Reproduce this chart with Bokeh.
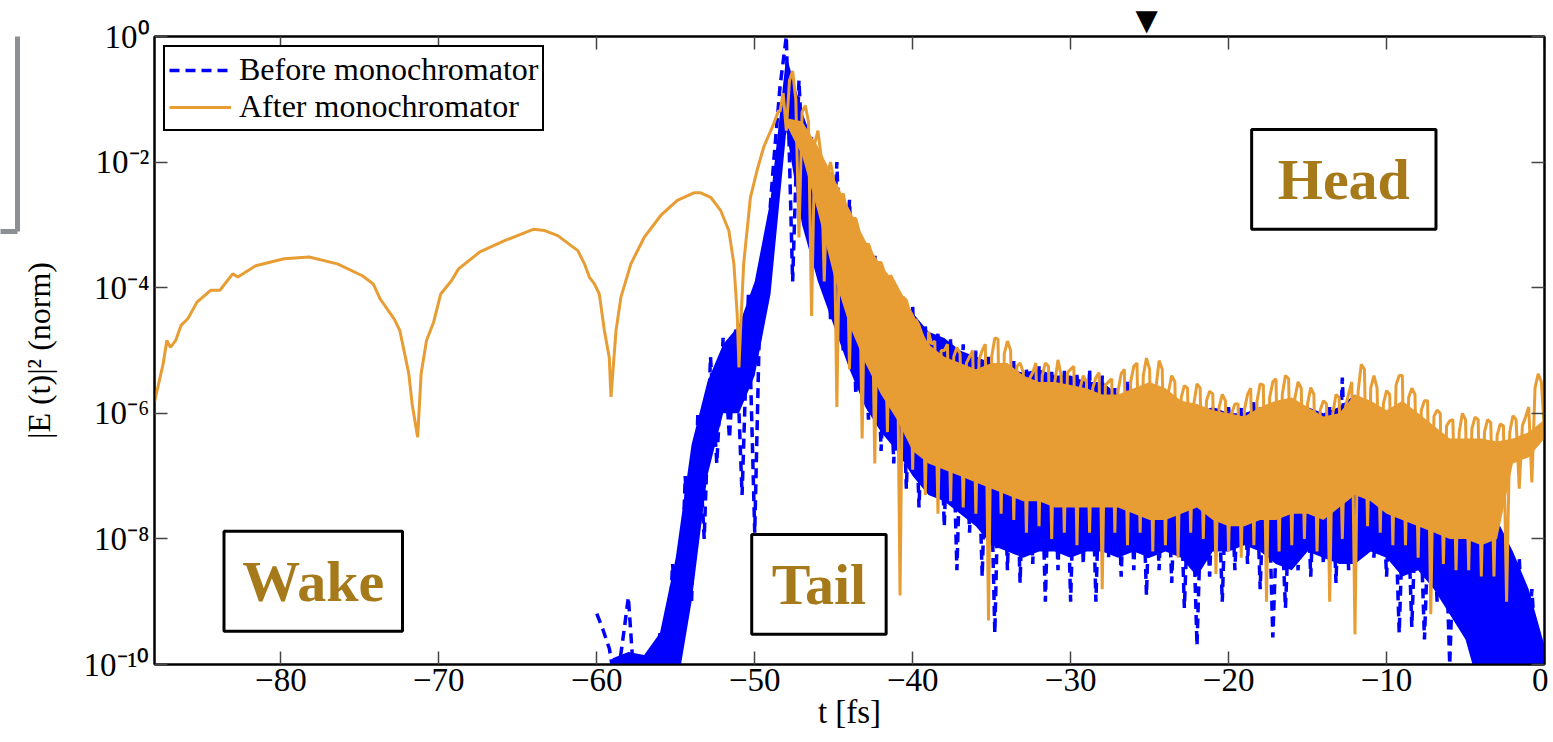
import numpy as np
from bokeh.plotting import figure
from bokeh.models import (Range1d, FixedTicker, LinearAxis, LogAxis, CustomJSTickFormatter,
                          Legend, LegendItem, BoxAnnotation, Label)
from bokeh.embed import file_html
from bokeh.resources import INLINE

# ---------------- data (log10 of |E(t)|^2) ----------------
x_ticks = [-80, -70, -60, -50, -40, -30, -20, -10, 0]
y_tick_exponents = [-10, -8, -6, -4, -2, 0]

# After monochromator: smooth wake part
orange_smooth_t = [-88.0, -87.45, -87.22, -86.99, -86.66, -86.32, -85.88, -85.31, -84.43, -83.86,
                   -83.05, -82.72, -81.59, -79.79, -78.21, -76.42, -74.84, -74.15, -73.71, -72.82,
                   -72.47, -71.90, -71.69, -71.34, -71.12, -70.78, -70.33, -69.88, -69.20, -68.75,
                   -67.40, -65.83, -64.02, -63.3, -62.47, -61.2, -60.78, -60.47, -60.15, -59.84,
                   -59.52, -59.21, -59.1, -58.78, -58.47, -57.84, -57.0, -55.95, -54.9, -53.85,
                   -53.42, -52.79, -52.16, -51.64, -51.32, -51.11, -51.0, -50.9, -50.7, -50.27,
                   -49.85, -49.43, -48.8, -48.49]
orange_smooth_log = [-5.82, -5.21, -4.84, -4.95, -4.84, -4.60, -4.49, -4.23, -4.04, -4.04,
                     -3.78, -3.83, -3.65, -3.54, -3.51, -3.62, -3.81, -3.94, -4.18, -4.50,
                     -4.68, -5.37, -5.85, -6.38, -5.37, -4.84, -4.55, -4.10, -3.89, -3.70,
                     -3.43, -3.25, -3.07, -3.09, -3.17, -3.41, -3.62, -3.83, -3.94, -4.10,
                     -4.68, -5.11, -5.74, -4.68, -4.15, -3.62, -3.20, -2.85, -2.61, -2.49,
                     -2.49, -2.56, -2.77, -3.09, -3.62, -4.42, -5.27, -4.68, -3.62, -2.56,
                     -2.13, -1.76, -1.39, -1.18]

# After monochromator: noisy part, samples every 0.2 fs from -48.4 fs
orange_noise_start, orange_noise_step = -48.4, 0.2
# even samples (t = -48.4, -48.0, ..., 0.0)
orange_noise_even = [-1.2, -1.5, -0.55, -3.2, -1.1, -4.45, -1.5, -3.9, -2.0, -5.9,
                     -2.5, -5.3, -2.9, -6.4, -3.3, -6.8, -3.6, -6.3, -3.9, -8.9,
                     -4.2, -6.9, -4.6, -7.3, -4.9, -7.6, -5.0, -7.4, -4.95, -7.5,
                     -5.1, -7.6, -5.0, -9.3, -4.8, -7.6, -4.85, -7.7, -5.2, -7.9,
                     -5.35, -7.8, -5.2, -8.0, -5.15, -7.9, -5.3, -8.1, -5.4, -7.9,
                     -5.43, -8.8, -5.5, -7.9, -5.37, -8.1, -5.25, -7.9, -5.12, -8.2,
                     -5.16, -8.1, -5.4, -8.3, -5.56, -7.9, -5.53, -8.0, -5.65, -8.56,
                     -5.7, -8.2, -5.85, -8.3, -5.7, -8.1, -5.53, -9.0, -5.5, -8.2,
                     -5.4, -8.1, -5.5, -8.0, -5.59, -8.2, -5.8, -9.0, -5.7, -8.0,
                     -5.69, -9.52, -5.22, -7.8, -5.4, -7.9, -5.64, -8.1, -5.4, -8.1,
                     -5.6, -8.3, -5.8, -9.2, -5.95, -8.4, -6.12, -8.5, -6.0, -8.5,
                     -6.06, -8.6, -6.1, -8.6, -6.17, -9.0, -6.04, -7.2, -6.06, -7.1,
                     -5.37, -6.3]
# odd samples (t = -48.2, -47.8, ..., -0.2)
orange_noise_odd = [-0.9, -0.7, -1.0, -1.2, -1.35, -1.7, -1.9, -2.2, -2.3, -2.6,
                    -2.75, -2.9, -3.1, -3.35, -3.45, -3.6, -3.75, -3.8, -4.0, -4.15,
                    -4.4, -4.5, -4.75, -4.7, -4.85, -5.0, -4.9, -5.1, -5.05, -5.2,
                    -5.0, -5.15, -4.9, -5.1, -4.82, -5.05, -5.0, -5.25, -5.35, -5.45,
                    -5.2, -5.4, -5.25, -5.5, -5.4, -5.35, -5.25, -5.6, -5.5, -5.6,
                    -5.35, -5.55, -5.45, -5.65, -5.3, -5.5, -5.2, -5.4, -5.3, -5.6,
                    -5.3, -5.65, -5.5, -5.75, -5.6, -5.85, -5.6, -5.8, -5.69, -5.9,
                    -5.8, -6.0, -5.85, -5.95, -5.6, -5.8, -5.55, -5.75, -5.45, -5.7,
                    -5.45, -5.75, -5.6, -5.85, -5.7, -5.95, -5.85, -6.0, -5.75, -5.9,
                    -5.5, -5.65, -5.3, -5.6, -5.6, -5.85, -5.7, -5.55, -5.4, -5.75,
                    -5.7, -5.95, -5.8, -6.05, -6.0, -6.2, -6.1, -6.3, -6.1, -6.25,
                    -6.1, -6.3, -6.15, -6.35, -6.2, -6.3, -6.1, -6.2, -5.9, -5.6,
                    -5.5]

# After monochromator: dense band (upper / lower edge) at 1 fs
orange_band_t = list(range(-48, 1))
orange_band_hi = [-1.3, -1.35, -1.75, -2.25, -2.75, -3.25, -3.65, -3.95, -4.4, -4.9,
                  -5.1, -5.2, -5.3, -5.2, -5.2, -5.4, -5.5, -5.5, -5.55, -5.6,
                  -5.7, -5.7, -5.6, -5.5, -5.6, -5.8, -5.85, -5.95, -6.0, -6.05,
                  -5.9, -5.8, -5.75, -5.9, -6.05, -6.0, -5.7, -5.8, -5.95, -5.8,
                  -6.0, -6.2, -6.4, -6.4, -6.4, -6.45, -6.4, -6.3, -6.1]
orange_band_lo = [-1.4, -1.9, -2.8, -3.8, -4.6, -5.2, -5.7, -6.1, -6.6, -6.8,
                  -6.9, -7.0, -7.1, -7.2, -7.3, -7.4, -7.4, -7.5, -7.5, -7.5,
                  -7.5, -7.5, -7.6, -7.7, -7.7, -7.6, -7.5, -7.7, -7.8, -7.8,
                  -7.7, -7.7, -7.6, -7.6, -7.7, -7.5, -7.3, -7.4, -7.6, -7.7,
                  -7.8, -7.9, -8.0, -8.0, -8.1, -8.0, -6.8, -6.7, -6.4]

# Before monochromator: noisy trace, samples every 0.4 fs from -60 fs
blue_noise_start, blue_noise_step = -60.0, 0.4
blue_noise_log = [-9.19, -9.45, -9.75, -10.4, -9.7, -8.93, -10.4, -10.0, -9.85, -10.4,
                  -9.5, -10.4, -8.4, -10.0, -7.0, -9.0, -6.0, -8.0, -5.1, -6.8,
                  -4.8, -6.4, -4.65, -7.3, -4.1, -7.9, -3.5, -3.3, -2.0, -0.8,
                  0.0, -3.9, -0.7, -2.8, -1.6, -3.8, -2.2, -4.5, -2.0, -5.0,
                  -2.6, -5.7, -3.4, -6.1, -3.45, -6.6, -3.9, -6.8, -4.15, -7.2,
                  -4.3, -7.5, -4.6, -7.3, -4.7, -7.8, -4.8, -8.5, -4.9, -7.9,
                  -5.0, -8.6, -5.1, -9.5, -5.2, -8.5, -5.15, -8.7, -5.3, -8.4,
                  -5.25, -9.0, -5.3, -8.5, -5.3, -9.0, -5.35, -8.4, -5.3, -9.0,
                  -5.4, -8.3, -5.6, -8.6, -5.5, -8.5, -5.6, -8.9, -5.7, -8.5,
                  -5.8, -8.7, -5.8, -9.1, -6.3, -9.7, -6.3, -8.6, -5.9, -9.0,
                  -5.9, -8.5, -5.9, -8.4, -5.8, -8.8, -5.9, -9.57, -6.7, -9.1,
                  -6.6, -8.5, -5.9, -8.6, -6.0, -8.4, -5.9, -8.7, -5.43, -8.5,
                  -5.8, -8.3, -6.1, -8.3, -6.3, -8.6, -6.3, -9.5, -6.4, -9.4,
                  -6.5, -9.6, -6.7, -9.0, -6.8, -10.0, -7.0, -9.4, -7.3, -10.4,
                  -7.4, -10.4, -7.6, -10.4, -7.9, -10.4, -8.3, -10.4, -8.8, -10.4,
                  -9.8]

# Before monochromator: dense band (upper / lower edge) at 1 fs
blue_band_t = list(range(-59, 1))
blue_band_hi = [-9.9, -9.8, -9.85, -9.5, -8.3, -6.5, -5.5, -4.9, -4.6, -3.9,
                -2.6, -0.3, -1.2, -1.9, -2.3, -2.8, -3.5, -3.7, -4.1, -4.4,
                -4.7, -4.8, -5.0, -5.1, -5.2, -5.3, -5.35, -5.3, -5.4, -5.4,
                -5.5, -5.5, -5.7, -5.7, -5.8, -5.9, -5.9, -6.0, -5.9, -6.0,
                -6.0, -5.9, -6.0, -6.0, -5.9, -6.0, -5.9, -5.7, -6.1, -6.4,
                -6.5, -6.6, -6.7, -7.0, -7.3, -7.5, -7.7, -8.2, -8.8, -9.7]
blue_band_lo = [-10.5, -10.5, -10.5, -10.5, -10.5, -9.0, -7.0, -6.0, -6.0, -5.4,
                -4.1, -1.5, -3.0, -3.9, -4.6, -5.3, -5.9, -6.3, -6.6, -7.0,
                -7.3, -7.4, -7.6, -7.8, -8.1, -8.2, -8.3, -8.2, -8.2, -8.3,
                -8.2, -8.2, -8.3, -8.2, -8.3, -8.2, -8.3, -8.6, -8.2, -8.2,
                -8.1, -8.2, -8.4, -8.5, -8.2, -8.3, -8.4, -8.4, -8.2, -8.3,
                -8.6, -8.5, -8.8, -9.2, -9.6, -10.5, -10.5, -10.5, -10.5, -10.5]

# annotation boxes: (label, left t, right t, top exponent, bottom exponent)
region_names = ["Head", "Wake", "Tail"]
region_left = [-18.54, -83.6, -50.19]
region_right = [-6.87, -72.3, -41.68]
region_top = [-1.48, -7.88, -7.93]
region_bottom = [-3.07, -9.47, -9.52]

# ---------------- build ----------------
BLUE = "#0000FF"
ORANGE = "#E79D33"
GOLD = "#A67A1A"
GREY = "#8C8F93"
SERIF = "Liberation Serif"

orange_noise_log = np.empty(len(orange_noise_even) + len(orange_noise_odd))
orange_noise_log[0::2] = orange_noise_even
orange_noise_log[1::2] = orange_noise_odd
orange_noise_t = orange_noise_start + orange_noise_step * np.arange(len(orange_noise_log))
orange_t = np.concatenate([orange_smooth_t, orange_noise_t])
orange_y = 10.0 ** np.concatenate([orange_smooth_log, orange_noise_log])

blue_t = blue_noise_start + blue_noise_step * np.arange(len(blue_noise_log))
blue_y = 10.0 ** np.array(blue_noise_log)

p = figure(width=1548, height=742, output_backend="svg", toolbar_location=None,
           x_range=Range1d(-88, 0), y_range=Range1d(1e-10, 1), y_axis_type="log",
           min_border_left=149, min_border_right=4, min_border_top=36, min_border_bottom=78)
p.background_fill_color = "white"
p.border_fill_color = "white"
p.outline_line_color = "black"
p.outline_line_width = 2
p.grid.visible = False

# blue (before)
p.varea(x=blue_band_t, y1=10.0 ** np.array(blue_band_lo), y2=10.0 ** np.array(blue_band_hi),
        fill_color=BLUE, fill_alpha=1.0)
blue_line = p.line(blue_t, blue_y, line_color=BLUE, line_width=3.5, line_dash="10 6")
# orange (after)
p.varea(x=orange_band_t, y1=10.0 ** np.array(orange_band_lo), y2=10.0 ** np.array(orange_band_hi),
        fill_color=ORANGE, fill_alpha=1.0)
orange_line = p.line(orange_t, orange_y, line_color=ORANGE, line_width=3)

# axes
def style(ax, labels=True):
    ax.axis_line_color = "black"
    ax.axis_line_width = 2
    ax.major_tick_in = 13
    ax.major_tick_out = 0
    ax.major_tick_line_color = "#444444"
    ax.major_tick_line_width = 1.5
    ax.minor_tick_line_color = None
    ax.major_label_text_font = SERIF
    ax.major_label_text_font_size = "33px"
    ax.major_label_text_color = "black"
    if not labels:
        ax.formatter = CustomJSTickFormatter(code="return '';")
        ax.major_label_standoff = 0

x_fmt = CustomJSTickFormatter(code="return tick < 0 ? '\u2212' + Math.abs(tick) : tick.toString();")
y_fmt = CustomJSTickFormatter(code="""
const sup = {'0':'\u2070','1':'\u00b9','2':'\u00b2','3':'\u00b3','4':'\u2074','5':'\u2075',
             '6':'\u2076','7':'\u2077','8':'\u2078','9':'\u2079','-':'\u207b'};
const e = Math.round(Math.log10(tick));
return '10' + String(e).split('').map(c => sup[c]).join('');
""")

y_ticks = [10.0 ** e for e in y_tick_exponents]

xa = p.xaxis[0]
style(xa)
xa.ticker = FixedTicker(ticks=x_ticks)
xa.formatter = x_fmt
xa.major_label_standoff = 4
xa.axis_label = "t [fs]"
xa.axis_label_text_font = SERIF
xa.axis_label_text_font_size = "33px"
xa.axis_label_text_font_style = "normal"
xa.axis_label_text_color = "black"
xa.axis_label_standoff = 0

ya = p.yaxis[0]
style(ya)
ya.ticker = FixedTicker(ticks=y_ticks)
ya.formatter = y_fmt
ya.major_label_standoff = 5
ya.axis_label = "|E (t)|\u00b2 (norm)"
ya.axis_label_text_font = SERIF
ya.axis_label_text_font_size = "32px"
ya.axis_label_text_font_style = "normal"
ya.axis_label_text_color = "black"
ya.axis_label_standoff = 24

top = LinearAxis(ticker=FixedTicker(ticks=x_ticks))
style(top, labels=False)
p.add_layout(top, "above")
right = LogAxis(ticker=FixedTicker(ticks=y_ticks))
style(right, labels=False)
p.add_layout(right, "right")

# grey bracket seen at the left edge of the picture (drawn as a bare axis)
bracket_end = 10 ** -3.11
bracket = LogAxis(ticker=FixedTicker(ticks=[bracket_end]), bounds=(bracket_end, 1.0))
bracket.formatter = CustomJSTickFormatter(code="return '';")
bracket.major_label_standoff = 0
bracket.axis_line_color = GREY
bracket.axis_line_width = 5
bracket.major_tick_line_color = GREY
bracket.major_tick_line_width = 5
bracket.major_tick_out = 17
bracket.major_tick_in = 0
bracket.minor_tick_line_color = None
p.add_layout(bracket, "left")

# marker triangle above the axes
p.title.text = "\u25bc"
p.title.align = "left"
p.title.offset = 981
p.title.text_font = "DejaVu Sans"
p.title.text_font_size = "29px"
p.title.text_color = "black"
p.title.standoff = 0

# region boxes
for name, l, r, t_, b_ in zip(region_names, region_left, region_right, region_top, region_bottom):
    p.add_layout(BoxAnnotation(left=l, right=r, top=10 ** t_, bottom=10 ** b_,
                               fill_color="white", fill_alpha=1.0,
                               line_color="black", line_width=3, line_alpha=1.0))
    p.add_layout(Label(x=(l + r) / 2, y=10 ** ((t_ + b_) / 2), text=name,
                       text_align="center", text_baseline="middle", text_font=SERIF,
                       text_font_style="bold", text_font_size="58px", text_color=GOLD))

legend = Legend(items=[LegendItem(label="Before monochromator", renderers=[blue_line]),
                       LegendItem(label="After monochromator", renderers=[orange_line])],
                location="top_left")
legend.label_text_font = SERIF
legend.label_text_font_size = "32px"
legend.label_text_color = "black"
legend.padding = 4
legend.spacing = 0
legend.margin = 9
legend.glyph_width = 62
legend.glyph_height = 30
legend.label_standoff = 8
legend.border_line_color = "black"
legend.border_line_alpha = 1.0
legend.border_line_width = 2
legend.background_fill_alpha = 1.0
p.add_layout(legend)

open("out.html", "w", encoding="utf-8").write(file_html(p, INLINE))
